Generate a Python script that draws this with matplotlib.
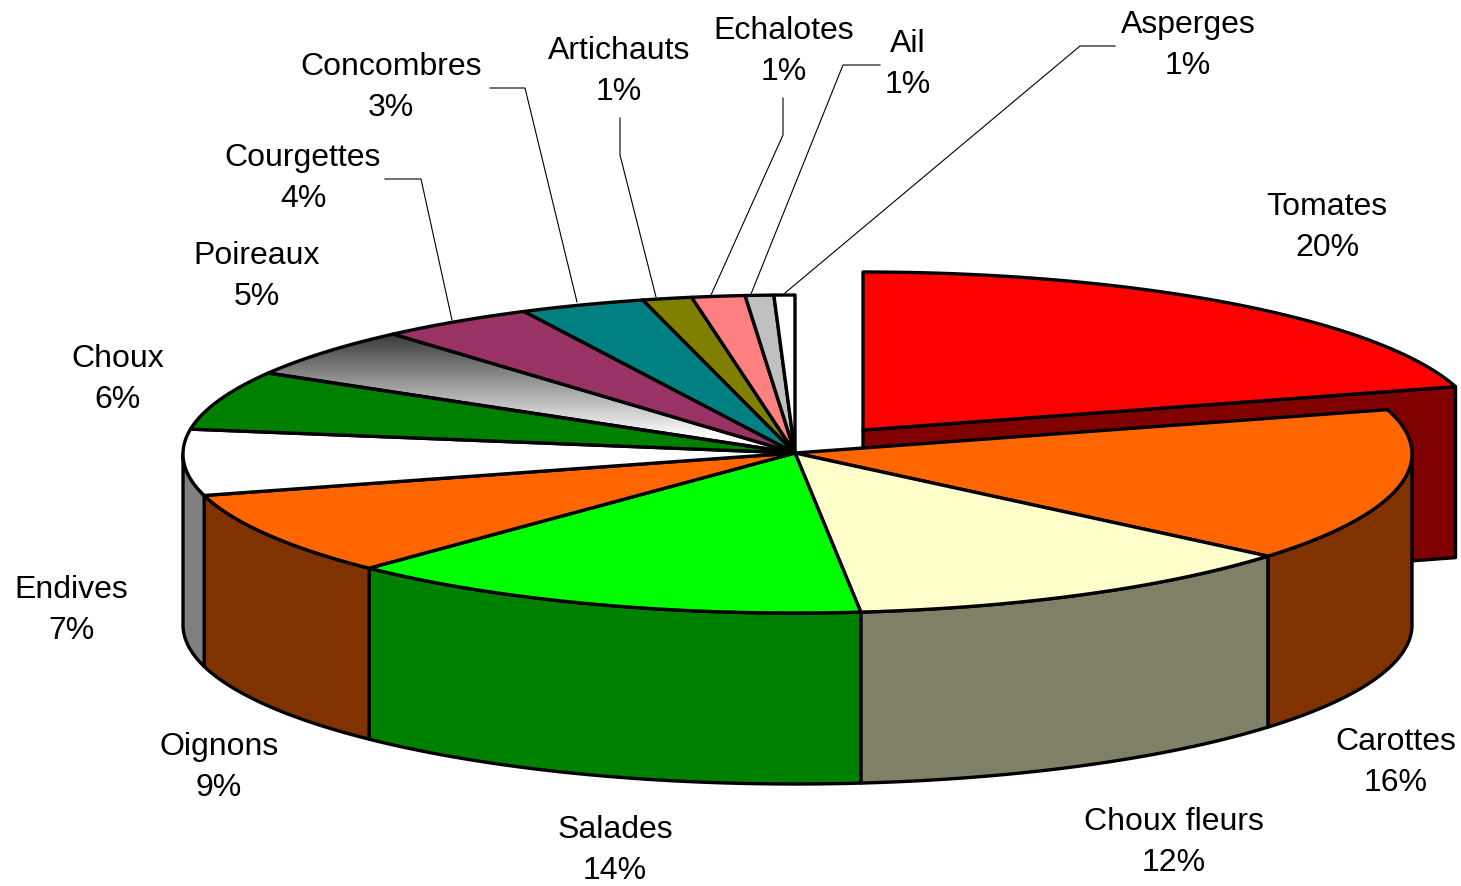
import numpy as np
import matplotlib
matplotlib.use('Agg')
import matplotlib.pyplot as plt
from matplotlib.patches import Polygon

plt.rcParams['font.family'] = ['Liberation Sans', 'DejaVu Sans']

# slices clockwise from 12 o'clock, shares
names = ['Tomates', 'Carottes', 'Choux fleurs', 'Salades', 'Oignons', 'Endives', 'Choux',
         'Poireaux', 'Courgettes', 'Concombres', 'Artichauts', 'Echalotes', 'Ail', 'Asperges']
shares = [20.5, 15.6, 12.2, 13.95, 8.55, 6.7, 6.0, 5.1, 4.1, 3.3, 1.3, 1.4, 0.75, 0.55]
pct_labels = ['20%', '16%', '12%', '14%', '9%', '7%', '6%', '5%', '4%', '3%', '1%', '1%', '1%', '1%']
top_colors = ['#FF0000', '#FF6600', '#FFFFCC', '#00FF00', '#FF6600', '#FFFFFF', '#008000',
              None, '#993366', '#008080', '#808000', '#FF8080', '#C0C0C0', '#FFFFFF']
side_colors = ['#800000', '#803300', '#808066', '#008000', '#803300', '#808080', '#004000',
               '#808080', '#4C1933', '#004040', '#404000', '#804040', '#606060', '#808080']

# label centres and leader lines, in picture pixels
label_xy = [(1327, 207), (1396, 742), (1174, 822), (615, 830), (219, 747), (71, 590), (118, 359),
            (257, 256), (303, 158), (391, 67), (619, 51), (784, 31), (908, 44), (1188, 25)]
leaders = {
    'Courgettes': [(385, 179), (421, 179), (452, 320)],
    'Concombres': [(490, 88), (525, 88), (577, 302)],
    'Artichauts': [(620, 118), (620, 155), (656, 297)],
    'Echalotes': [(783, 98), (783, 135), (711, 295)],
    'Ail': [(880, 65), (843, 65), (751, 294)],
    'Asperges': [(1115, 46), (1080, 46), (785, 293)],
}

CX, CY = 795, 453
RX_RIGHT, RX_LEFT = 617, 612
RY = 159
DEPTH = 171
EXPLODE = (68, -23)
EDGE = 2.4
LABEL_PT = 23


def rim(t0, t1, cx=CX, cy=CY):
    """Points of the ellipse between two angles, clockwise from the top."""
    t = np.linspace(t0, t1, max(2, int(abs(t1 - t0) * 200)))
    s = np.sin(t)
    return np.column_stack([cx + np.where(s > 0, RX_RIGHT, RX_LEFT) * s, cy + 1 - RY * np.cos(t)])


fig = plt.figure(figsize=(14.61, 8.86), dpi=100)
ax = fig.add_axes([0, 0, 1, 1])
ax.set_xlim(0, 1461)
ax.set_ylim(886, 0)
ax.axis('off')

edges = np.concatenate([[0], np.cumsum(shares)]) / sum(shares) * 2 * np.pi

# exploded slice: only its cut face shows below the top
t0, t1 = edges[0], edges[1]
ex, ey = CX + EXPLODE[0], CY + EXPLODE[1]
end = rim(t0, t1, ex, ey)[-1]
ax.add_patch(Polygon([(ex, ey), end, end + (0, DEPTH), (ex, ey + DEPTH)],
                     fc=side_colors[0], ec='black', lw=EDGE, joinstyle='round', zorder=1))
ax.add_patch(Polygon(np.vstack([[(ex, ey)], rim(t0, t1, ex, ey)]),
                     fc=top_colors[0], ec='black', lw=EDGE, joinstyle='round', zorder=2))

# outer walls of the front half
for i in range(1, len(shares)):
    a, b = max(edges[i], np.pi / 2), min(edges[i + 1], 1.5 * np.pi)
    if a >= b:
        continue
    upper = rim(a, b)
    wall = np.vstack([upper, (upper + (0, DEPTH))[::-1]])
    ax.add_patch(Polygon(wall, fc=side_colors[i], ec='black', lw=EDGE, joinstyle='round', zorder=3))

# tops
for i in range(1, len(shares)):
    pts = np.vstack([[(CX, CY)], rim(edges[i], edges[i + 1])])
    if top_colors[i] is None:
        # the Poireaux slice fades from dark at the rim to white near the centre
        patch = Polygon(pts, fc='none', ec='none', zorder=4)
        ax.add_patch(patch)
        grad = np.linspace(0, 1, 256).reshape(-1, 1)
        img = ax.imshow(grad, cmap='gray', vmin=-0.3, vmax=1, aspect='auto', zorder=4,
                        extent=(pts[:, 0].min(), pts[:, 0].max(), CY - 16, pts[:, 1].min()))
        img.set_clip_path(patch)
        ax.set_xlim(0, 1461)
        ax.set_ylim(886, 0)
        ax.add_patch(Polygon(pts, fc='none', ec='black', lw=EDGE, joinstyle='round', zorder=5))
    else:
        ax.add_patch(Polygon(pts, fc=top_colors[i], ec='black', lw=EDGE, joinstyle='round', zorder=5))

for pts in leaders.values():
    xs, ys = zip(*pts)
    ax.plot(xs, ys, color='black', lw=0.8, zorder=2)

for name, pct, (x, y) in zip(names, pct_labels, label_xy):
    ax.text(x, y, name, fontsize=LABEL_PT, ha='center', va='center', color='black')
    ax.text(x, y + 41, pct, fontsize=LABEL_PT, ha='center', va='center', color='black')

fig.savefig('out.png', dpi=100)
